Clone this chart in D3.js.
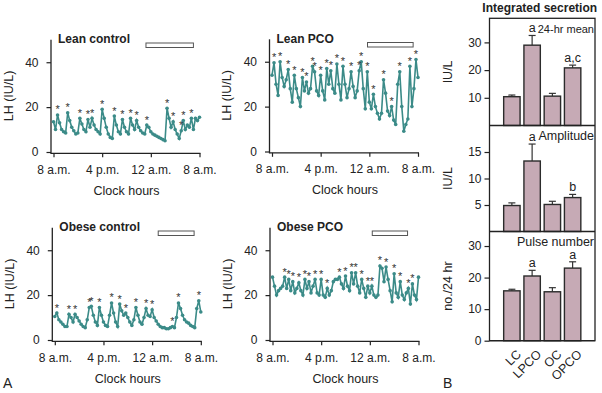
<!DOCTYPE html>
<html>
<head>
<meta charset="utf-8">
<script src="https://cdn.jsdelivr.net/npm/d3@7/dist/d3.min.js"></script>
<style>
  body { margin: 0; background: #fff; }
  svg { font-family: "Liberation Sans", Arial, sans-serif; }
</style>
</head>
<body>
<svg id="chart" width="602" height="393"></svg>
<script>
// LH (IU/L), one sample every 20 min from 8 a.m. to 8 a.m.
var leanControl = [13.5,10,16.5,13,10,9,8.5,17.5,14,11,9.5,8,8.5,15,12.5,10,9,14.5,11,15,12,10,9,8,
  19,15,11,8,6.5,6,16,12,9,8,14.5,11,9,8,15,12,10,14,11,9.5,8.5,8,12,11,9,8,7.5,7,6.5,6,5.5,5,
  19.5,15,11,13.5,10,8,6,9.5,14,10,12,11,15,10,15,14,15.5];
var leanPCO = [34,39.5,30,25,40,33,29,32,36.5,28,22,34,28,24,20,33,27,31,26,28,38,35.5,27,25,
  34,27,23,37,30,36,28,26,39,30,23,38,30,24,28,35.5,29,24,27,36,40,28,19,35.5,22,19,25.5,20,17,14.5,
  17,32,26,18,16,20,14,12,30,35.5,20,9,12,14.5,38,20,28,41,33];
var obeseControl = [10.5,12,9,8,7,6,6,11.5,10,8,11.5,10,8.5,7,6,5.5,9,14.5,15,11,8,6.5,14.5,11,
  8,6.5,6,11,16.5,12,8,6,16,13,11,12,10,8,6.5,9,14.5,11,8,7,10,14,11,10.5,13.5,10,8.5,7,6,5.5,
  5.5,5,5,5.5,6,5.5,10,16.5,14,11,9,8,7.5,6.5,6,5.5,14,17.5,12.5];
var obesePCO = [28,24,20,22,23,24,28,23,27,22,26,21,23,25.5,22,20,27,23,26,21,24,27,21,20,
  27,20,19,23,20,22,26,27,27,28,25,23,28.5,24,22,30,25,30,24,21,27,23,19,24,21,24,20,19,20,33,
  32,26,32.5,27,22,17,29.5,21,19,26,20,18,21,23,16,25,20,18,28];

// samples marked as pulses (*)
var pulsesLC = [2,7,13,17,19,24,30,34,38,41,46,56,59,63,64,68];
var pulsesLPCO = [1,4,8,11,15,17,20,21,24,27,29,32,35,39,43,44,47,50,55,59,63,68,71];
var pulsesOC = [1,7,10,17,18,22,28,32,35,40,45,48,58,61,71];
var pulsesOPCO = [6,8,10,13,16,18,21,24,27,33,36,39,41,44,47,49,53,56,60,63,67,69];

// sleep period, hours after 8 a.m.
var sleepLC = [15.2, 23.0];
var sleepLPCO = [15.7, 23.2];
var sleepOC = [17.0, 22.9];
var sleepOPCO = [16.4, 22.2];

var clockTicks = [0, 8, 16, 24];
var clockLabels = ["8 a.m.", "4 p.m.", "12 a.m.", "8 a.m."];
var lhTicks = [0, 20, 40];

// integrated secretion
var groups = ["LC", "LPCO", "OC", "OPCO"];
var meanVals = [10.4, 29, 10.6, 20.8];
var meanErr = [0.6, 3.5, 1.0, 1.0];
var meanSig = ["", "a", "", "a,c"];
var ampVals = [4.9, 13.3, 5.1, 6.4];
var ampErr = [0.5, 3.2, 0.6, 0.6];
var ampSig = ["", "a", "", "b"];
var pulseVals = [15.8, 20.5, 15.5, 23];
var pulseErr = [0.5, 1.8, 1.3, 2.0];
var pulseSig = ["", "a", "", "a"];

var teal = "#3b8b88";
var ink = "#222";

var svg = d3.select("#chart");

var panels = [
  {title: "Lean control", data: leanControl, pulses: pulsesLC, sleep: sleepLC, ax: 51, y0: 152},
  {title: "Lean PCO", data: leanPCO, pulses: pulsesLPCO, sleep: sleepLPCO, ax: 269.5, y0: 151.5},
  {title: "Obese control", data: obeseControl, pulses: pulsesOC, sleep: sleepOC, ax: 52.3, y0: 340},
  {title: "Obese PCO", data: obesePCO, pulses: pulsesOPCO, sleep: sleepOPCO, ax: 270, y0: 340}
];

panels.forEach(function(p) {
  var x = d3.scaleLinear().domain([0, 24]).range([p.ax + 2.5, p.ax + 148.5]);
  var y = d3.scaleLinear().domain([0, 50]).range([p.y0, p.y0 - 112.2]);
  var g = svg.append("g");

  // y axis
  var ya = g.append("g")
      .attr("transform", "translate(" + p.ax + ",0)")
      .call(d3.axisLeft(y).tickValues(lhTicks).tickSize(4.5).tickPadding(8).tickSizeOuter(0));
  ya.select(".domain").remove();
  // x axis
  var xa = g.append("g")
      .attr("transform", "translate(0," + (p.y0 + 1.3) + ")")
      .call(d3.axisBottom(x).tickValues(clockTicks).tickSize(4).tickPadding(8)
        .tickFormat(function(d, i) { return clockLabels[i]; }));
  xa.select(".domain").remove();
  [ya, xa].forEach(function(a) {
    a.attr("font-size", 12).attr("font-family", null).attr("color", ink);
    a.selectAll("line").attr("stroke-width", 1.2);
  });
  g.append("line")
      .attr("x1", p.ax).attr("x2", p.ax)
      .attr("y1", y(50)).attr("y2", p.y0 + 1.9)
      .attr("stroke", ink).attr("stroke-width", 1.3);
  g.append("line")
      .attr("x1", p.ax).attr("x2", x(24) + 1)
      .attr("y1", p.y0 + 1.3).attr("y2", p.y0 + 1.3)
      .attr("stroke", ink).attr("stroke-width", 1.3);

  // trace
  var line = d3.line()
      .x(function(d, i) { return x(i / 3); })
      .y(function(d) { return y(d); });
  g.append("path")
      .datum(p.data)
      .attr("d", line)
      .attr("fill", "none")
      .attr("stroke", teal)
      .attr("stroke-width", 1.6);
  g.selectAll("circle.pt")
      .data(p.data)
    .enter().append("circle")
      .attr("class", "pt")
      .attr("cx", function(d, i) { return x(i / 3); })
      .attr("cy", function(d) { return y(d); })
      .attr("r", 1.8)
      .attr("fill", teal);

  // pulse marks
  g.selectAll("text.star")
      .data(p.pulses)
    .enter().append("text")
      .attr("class", "star")
      .attr("x", function(d) { return x(d / 3); })
      .attr("y", function(d) { return y(p.data[d]) - 1.5; })
      .attr("text-anchor", "middle")
      .attr("font-size", 11)
      .attr("fill", "#333")
      .text("*");

  // sleep bar
  g.append("rect")
      .attr("x", x(p.sleep[0]))
      .attr("y", p.y0 - 109)
      .attr("width", x(p.sleep[1]) - x(p.sleep[0]))
      .attr("height", 4.5)
      .attr("fill", "#fff")
      .attr("stroke", "#555")
      .attr("stroke-width", 1);

  g.append("text")
      .attr("x", p.ax + 7)
      .attr("y", p.y0 - 108.7)
      .attr("font-size", 12)
      .attr("font-weight", "bold")
      .attr("fill", ink)
      .text(p.title);
  g.append("text")
      .attr("x", (x(0) + x(24)) / 2)
      .attr("y", p.y0 + 42.5)
      .attr("text-anchor", "middle")
      .attr("font-size", 12.5)
      .attr("fill", ink)
      .text("Clock hours");
  g.append("text")
      .attr("transform", "translate(" + (p.ax - 38.5) + "," + y(25) + ") rotate(-90)")
      .attr("text-anchor", "middle")
      .attr("font-size", 12.5)
      .attr("fill", ink)
      .text("LH (IU/L)");
});

// ---- bar panels (B)
var left = 489.5, right = 595;
var bx = d3.scaleBand().domain(groups).range([left, right]).paddingInner(0.19).paddingOuter(0.7);

var subs = [
  {vals: meanVals, err: meanErr, sig: meanSig, top: 18.3, bottom: 125.5, max: 38.7,
   ticks: [10, 20, 30], label: "24-hr mean", labSize: 11, ylab: "IU/L"},
  {vals: ampVals, err: ampErr, sig: ampSig, top: 125.5, bottom: 231.5, max: 20,
   ticks: [5, 10, 15], label: "Amplitude", labSize: 12.5, ylab: "IU/L"},
  {vals: pulseVals, err: pulseErr, sig: pulseSig, top: 231.5, bottom: 340.7, max: 34.6,
   ticks: [0, 10, 20, 30], label: "Pulse number", labSize: 12.5, ylab: "no./24 hr"}
];

subs.forEach(function(s) {
  var y = d3.scaleLinear().domain([0, s.max]).range([s.bottom, s.top]);
  var g = svg.append("g");

  var ya = g.append("g")
      .attr("transform", "translate(" + left + ",0)")
      .call(d3.axisLeft(y).tickValues(s.ticks).tickSize(5).tickPadding(3).tickSizeOuter(0));
  ya.select(".domain").remove();
  ya.attr("font-size", 12).attr("font-family", null).attr("color", ink);
  ya.selectAll("line").attr("stroke-width", 1.2);

  // error bars (upper only)
  g.selectAll("line.err")
      .data(groups)
    .enter().append("line")
      .attr("class", "err")
      .attr("x1", function(d) { return bx(d) + bx.bandwidth() / 2; })
      .attr("x2", function(d) { return bx(d) + bx.bandwidth() / 2; })
      .attr("y1", function(d, i) { return y(s.vals[i]); })
      .attr("y2", function(d, i) { return y(s.vals[i] + s.err[i]); })
      .attr("stroke", "#333").attr("stroke-width", 1.2);
  g.selectAll("line.cap")
      .data(groups)
    .enter().append("line")
      .attr("class", "cap")
      .attr("x1", function(d) { return bx(d) + bx.bandwidth() / 2 - 3.5; })
      .attr("x2", function(d) { return bx(d) + bx.bandwidth() / 2 + 3.5; })
      .attr("y1", function(d, i) { return y(s.vals[i] + s.err[i]); })
      .attr("y2", function(d, i) { return y(s.vals[i] + s.err[i]); })
      .attr("stroke", "#333").attr("stroke-width", 1.2);

  g.selectAll("rect.bar")
      .data(groups)
    .enter().append("rect")
      .attr("class", "bar")
      .attr("x", function(d) { return bx(d); })
      .attr("width", bx.bandwidth())
      .attr("y", function(d, i) { return y(s.vals[i]); })
      .attr("height", function(d, i) { return s.bottom - y(s.vals[i]); })
      .attr("fill", "#c6aab5")
      .attr("stroke", "#2b2b2b")
      .attr("stroke-width", 1.4);

  g.selectAll("text.sig")
      .data(groups)
    .enter().append("text")
      .attr("class", "sig")
      .attr("x", function(d) { return bx(d) + bx.bandwidth() / 2; })
      .attr("y", function(d, i) { return y(s.vals[i] + s.err[i]) - 3; })
      .attr("text-anchor", "middle")
      .attr("font-size", 12.5)
      .attr("fill", ink)
      .text(function(d, i) { return s.sig[i]; });

  g.append("text")
      .attr("x", right - 1)
      .attr("y", s.top + 14.5)
      .attr("text-anchor", "end")
      .attr("font-size", s.labSize)
      .attr("fill", ink)
      .text(s.label);

  g.append("text")
      .attr("transform", "translate(452," + (s.top + s.bottom) / 2 + ") rotate(-90)")
      .attr("text-anchor", "middle")
      .attr("font-size", 12.5)
      .attr("fill", ink)
      .text(s.ylab);

  g.append("line")
      .attr("x1", left).attr("x2", right)
      .attr("y1", s.bottom).attr("y2", s.bottom)
      .attr("stroke", ink).attr("stroke-width", 1.3);
});

// frame
svg.append("rect")
    .attr("x", left).attr("y", 18.3)
    .attr("width", right - left).attr("height", 340.7 - 18.3)
    .attr("fill", "none")
    .attr("stroke", ink).attr("stroke-width", 1.3);

svg.selectAll("text.grp")
    .data(groups)
  .enter().append("text")
    .attr("class", "grp")
    .attr("transform", function(d) {
      return "translate(" + (bx(d) + bx.bandwidth() / 2 + 10) + ",355) rotate(-45)";
    })
    .attr("text-anchor", "end")
    .attr("font-size", 12.5)
    .attr("fill", ink)
    .text(function(d) { return d; });

svg.append("text")
    .attr("x", 539.7).attr("y", 11.5)
    .attr("text-anchor", "middle")
    .attr("font-size", 12)
    .attr("font-weight", "bold")
    .attr("fill", ink)
    .text("Integrated secretion");

svg.append("text").attr("x", 3).attr("y", 388)
    .attr("font-size", 14).attr("fill", ink).text("A");
svg.append("text").attr("x", 443).attr("y", 388)
    .attr("font-size", 14).attr("fill", ink).text("B");
</script>
</body>
</html>
